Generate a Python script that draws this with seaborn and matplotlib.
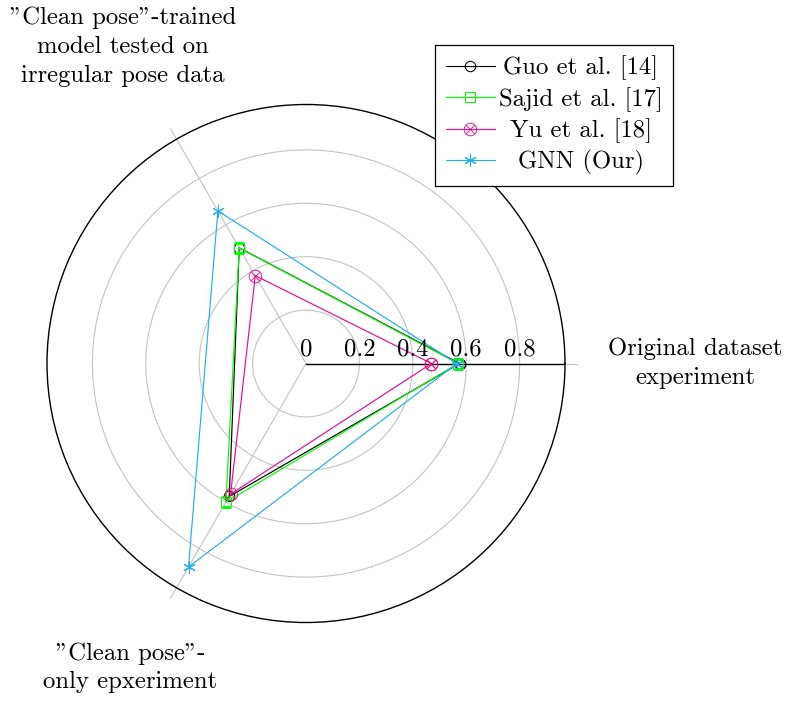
import numpy as np
import pandas as pd
import matplotlib
matplotlib.use("Agg")
import matplotlib.pyplot as plt
import seaborn as sns

# Radar axes (counter-clockwise from the right)
axis_labels = [
    "Original dataset\nexperiment",
    '"Clean pose"-trained\nmodel tested on\nirregular pose data',
    '"Clean pose"-\nonly epxeriment',
]
axis_angles_deg = [0, 120, 240]

# Scores per method on each axis
guo = [0.575, 0.50, 0.575]
sajid = [0.57, 0.50, 0.60]
yu = [0.47, 0.38, 0.565]
gnn = [0.565, 0.66, 0.88]

methods = ["Guo et al. [14]", "Sajid et al. [17]", "Yu et al. [18]", "GNN (Our)"]
r_ticks = [0, 0.2, 0.4, 0.6, 0.8]
r_max = 0.97

sns.set_style("white")
plt.rcParams["font.family"] = ["cmr10", "DejaVu Serif"]
plt.rcParams["mathtext.fontset"] = "cm"
plt.rcParams["axes.unicode_minus"] = False
plt.rcParams["axes.formatter.use_mathtext"] = True
plt.rcParams["text.color"] = "black"

FS = 17.8

# Long-form table, each polygon closed by repeating its first vertex at 2*pi
theta = np.deg2rad(axis_angles_deg)
rows = []
for name, vals in zip(methods, [guo, sajid, yu, gnn]):
    for t, v in zip(list(theta) + [2 * np.pi], list(vals) + [vals[0]]):
        rows.append({"method": name, "theta": t, "score": v})
df = pd.DataFrame(rows)

styles = {
    "Guo et al. [14]": dict(color="black", marker="o", markersize=7.5,
                            markerfacecolor="none", markeredgecolor="black"),
    "Sajid et al. [17]": dict(color="#00ff00", marker="s", markersize=7.8,
                              markerfacecolor="none", markeredgecolor="#00ff00"),
    "Yu et al. [18]": dict(color="#ec0c8c", marker=r"$\otimes$", markersize=9.5,
                           markerfacecolor="#ec0c8c", markeredgecolor="#ec0c8c",
                           markeredgewidth=0.2),
    "GNN (Our)": dict(color="#1fb1ee", marker=(6, 2, 0), markersize=9,
                      markerfacecolor="#1fb1ee", markeredgecolor="#1fb1ee"),
}

W, H = 785, 701
fig = plt.figure(figsize=(W / 100, H / 100), dpi=100)
cx, cy, rad = 306, 363.5, 259
ax = fig.add_axes([(cx - rad) / W, (H - cy - rad) / H, 2 * rad / W, 2 * rad / H],
                  projection="polar")
ax.set_ylim(0, r_max)
ax.set_xticks([])
ax.set_yticks([0.2, 0.4, 0.6, 0.8])
ax.set_yticklabels([])
ax.yaxis.grid(True, color="#c3c3c3", linewidth=0.8)
ax.xaxis.grid(False)
ax.spines["polar"].set_color("black")
ax.spines["polar"].set_linewidth(1.0)
ax.set_facecolor("white")

# Radial axis lines, extending a little past the outer circle
for t in theta:
    ax.plot([t, t], [0, 1.015], color="#c3c3c3", linewidth=0.8, clip_on=False, zorder=1)
ax.plot([0, 0], [0, r_max], color="black", linewidth=1.0, zorder=2)

for name in methods:
    sub = df[df["method"] == name]
    sns.lineplot(data=sub, x="theta", y="score", sort=False, ax=ax,
                 label=name, linewidth=0.85, zorder=3, **styles[name])
ax.set_xlabel("")
ax.set_ylabel("")

# Tick values along the 0-degree axis
for r in r_ticks:
    ax.annotate(f"{r:g}", xy=(0, r), xytext=(0, 2), textcoords="offset points",
                ha="center", va="bottom", fontsize=FS, zorder=4)

# Axis titles
label_r = [1.457, 1.37, 1.315]
for t, r, lab in zip(theta, label_r, axis_labels):
    ax.text(t, r, lab, ha="center", va="center", fontsize=FS,
            linespacing=1.38, clip_on=False)

leg = ax.legend(loc="upper right", bbox_to_anchor=(673 / W, 1 - 45 / H),
                bbox_transform=fig.transFigure, fontsize=FS, frameon=True,
                fancybox=False, edgecolor="black", framealpha=1,
                handlelength=2.0, handletextpad=0.15, borderpad=0.42,
                labelspacing=0.28, borderaxespad=0)
leg.get_frame().set_linewidth(0.9)

# Centre each label within the legend's text column
renderer = fig.canvas.get_renderer()
texts = leg.get_texts()
widths = [t.get_window_extent(renderer).width * 72 / fig.dpi for t in texts]
wmax = max(widths)
base_sep = 0.15 * FS
rows_boxes = [row for col in leg._legend_handle_box.get_children()
              for row in col.get_children()]
for row, w in zip(rows_boxes, widths):
    row.sep = base_sep + (wmax - w) / 2

fig.savefig("out.png", dpi=100, facecolor="white")
